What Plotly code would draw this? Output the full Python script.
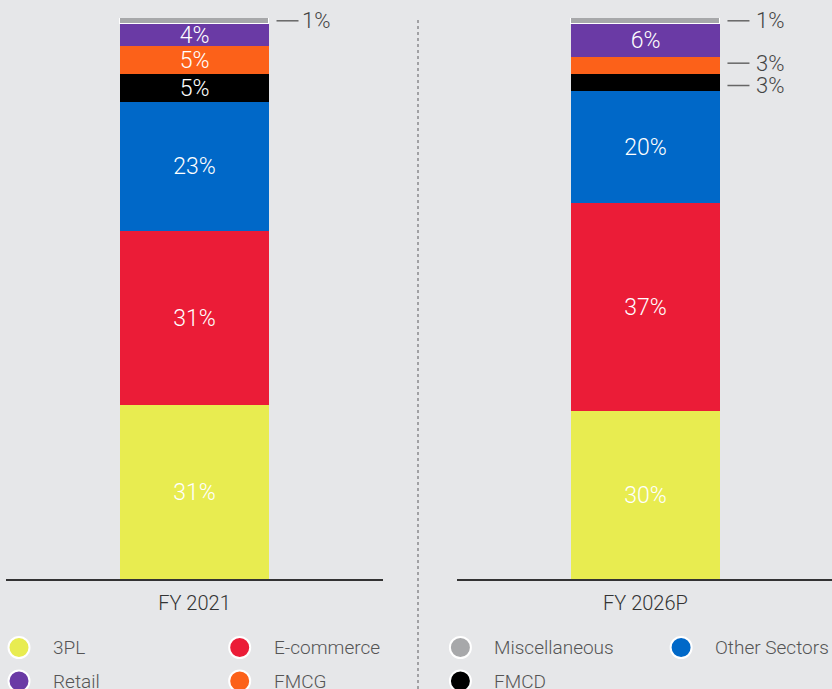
import plotly.graph_objects as go

# Segment shares (%) of each sector, bottom to top of the stack
periods = ["FY 2021", "FY 2026P"]
sectors = ["3PL", "E-commerce", "Other Sectors", "FMCD", "FMCG", "Retail", "Miscellaneous"]
fy2021 = [31, 31, 23, 5, 5, 4, 1]
fy2026 = [30, 37, 20, 3, 3, 6, 1]
colors = ["#e8ec50", "#eb1c37", "#0068c8", "#000000", "#fc6119", "#6a3aa5", "#a7a8aa"]

# Legend reading order
legend_order = ["3PL", "E-commerce", "Miscellaneous", "Other Sectors", "Retail", "FMCG", "FMCD"]

BG = "#e6e7e9"
FONT = "Roboto"
WEIGHT = 300
INSIDE_MIN = 4  # segments at or above this share carry their label inside
PX_PER_PCT = 5.61
BAR_PX = 149  # pixels per x unit (bar width = 1 unit)

fig = go.Figure()

series = [fy2021, fy2026]
axes = [("x", "y"), ("x2", "y2")]
for p, (period, vals) in enumerate(zip(periods, series)):
    xa, ya = axes[p]
    for name, v, c in zip(sectors, vals, colors):
        is_misc = name == "Miscellaneous"
        fig.add_trace(go.Bar(
            x=[period], y=[v], name=name, width=1.0,
            marker=dict(color=c, line=dict(color="white" if is_misc else c,
                                            width=1.5 if is_misc else 0)),
            text=[f"{v}%" if v >= INSIDE_MIN else ""],
            textposition="inside", insidetextanchor="middle",
            textfont=dict(color="white", size=23, family=FONT, weight=WEIGHT),
            xaxis=xa, yaxis=ya, showlegend=False, hoverinfo="skip",
        ))

# Outside labels with leader lines for the thin segments
annotations = []
shapes = []
y_nudge = {("FY 2026P", "FMCG"): -2.5, ("FY 2026P", "FMCD"): 3.0}
text_gap = {"FY 2021": 1, "FY 2026P": 5}
for p, (period, vals) in enumerate(zip(periods, series)):
    xa, ya = axes[p]
    cum = 0
    for name, v in zip(sectors, vals):
        mid = cum + v / 2
        cum += v
        if v >= INSIDE_MIN:
            continue
        ly_ = mid - y_nudge.get((period, name), 0) / PX_PER_PCT
        x0 = 0.5 + 7.5 / BAR_PX
        x1 = 0.5 + 29.5 / BAR_PX
        shapes.append(dict(type="line", xref=xa, yref=ya, x0=x0, x1=x1,
                           y0=ly_, y1=ly_, line=dict(color="#666", width=1.5)))
        annotations.append(dict(x=x1, y=ly_, xref=xa, yref=ya, text=f"{v}%",
                                showarrow=False, xanchor="left", yanchor="middle",
                                xshift=text_gap[period],
                                font=dict(color="#444", size=22, family=FONT, weight=WEIGHT)))

# Legend: circle markers laid out in a 4-column grid along the bottom
col_w, row_h = 220.7, 33.5
lx = [19 + (i % 4) * col_w for i in range(len(legend_order))]
ly = [647.5 + (i // 4) * row_h for i in range(len(legend_order))]
lc = [colors[sectors.index(n)] for n in legend_order]
fig.add_trace(go.Scatter(
    x=lx, y=ly, mode="markers", xaxis="x3", yaxis="y3",
    marker=dict(size=21, color=lc, line=dict(color="white", width=2)),
    showlegend=False, hoverinfo="skip",
))
for n, x, y in zip(legend_order, lx, ly):
    annotations.append(dict(x=x + 32, y=y, xref="x3", yref="y3", text=n,
                            showarrow=False, xanchor="left", yanchor="middle",
                            font=dict(color="#555", size=19, family=FONT, weight=WEIGHT)))

# Dotted divider between the two panels
shapes.append(dict(type="line", xref="paper", yref="paper", x0=418 / 832, x1=418 / 832,
                   y0=0, y1=1 - 17 / 689, line=dict(color="#8a8b8d", width=1.5, dash="dot")))

y_dom = [(689 - 579) / 689, (689 - 18) / 689]
xaxis_common = dict(showline=True, linecolor="#333", linewidth=1.5, ticks="",
                    showgrid=False, zeroline=False, fixedrange=True,
                    tickfont=dict(color="#333", size=20, family=FONT, weight=WEIGHT),
                    ticklabelstandoff=5)
yaxis_common = dict(range=[0, 100], visible=False, showgrid=False, zeroline=False)

fig.update_layout(
    width=832, height=689, autosize=False,
    margin=dict(l=0, r=0, t=0, b=0),
    paper_bgcolor=BG, plot_bgcolor="rgba(0,0,0,0)",
    barmode="stack", bargap=0,
    xaxis=dict(domain=[6 / 832, 383 / 832], range=[-1.265, 1.265], **xaxis_common),
    xaxis2=dict(domain=[457 / 832, 1], range=[-1.265, 1.252], anchor="y2", **xaxis_common),
    yaxis=dict(domain=y_dom, anchor="x", **yaxis_common),
    yaxis2=dict(domain=y_dom, anchor="x2", **yaxis_common),
    xaxis3=dict(domain=[0, 1], range=[0, 832], visible=False, anchor="y3"),
    yaxis3=dict(domain=[0, 1], range=[689, 0], visible=False, anchor="x3"),
    uniformtext=dict(minsize=23, mode="show"),
    annotations=annotations, shapes=shapes,
    showlegend=False,
)

fig.write_html("out.html")
